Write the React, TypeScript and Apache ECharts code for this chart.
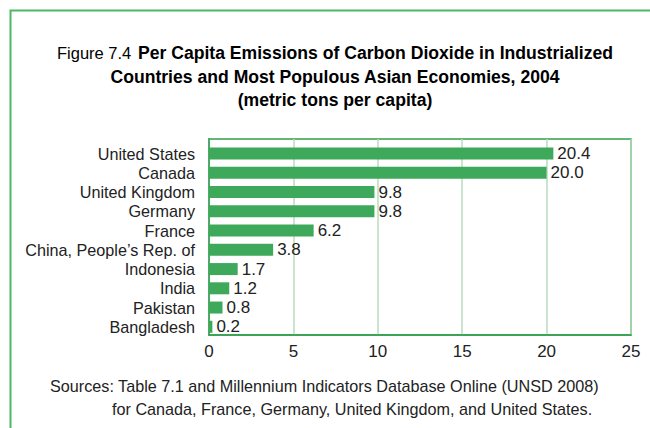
import React, { useEffect, useRef } from "react";
import * as echarts from "echarts";

const categories = [
  "United States",
  "Canada",
  "United Kingdom",
  "Germany",
  "France",
  "China, People’s Rep. of",
  "Indonesia",
  "India",
  "Pakistan",
  "Bangladesh",
];
const emissions = [20.4, 20.0, 9.8, 9.8, 6.2, 3.8, 1.7, 1.2, 0.8, 0.2];
const xTicks = { min: 0, max: 25, interval: 5 };

const FONT = "'Liberation Sans', Arial, sans-serif";
const GREEN = "#3ea95a";
const FRAME = "#4cb862";
const TEXT = "#222222";

export default function App() {
  const ref = useRef<HTMLDivElement>(null);
  useEffect(() => {
    document.body.style.margin = "0";
    const chart = echarts.init(ref.current!, null, { renderer: "svg" });
    chart.setOption({
      animation: false,
      backgroundColor: "#ffffff",
      textStyle: { fontFamily: FONT },
      graphic: [
        {
          type: "polyline",
          shape: { points: [[10.5, 428], [10.5, 10.5], [650, 10.5]] },
          style: { stroke: FRAME, lineWidth: 2, fill: null },
          silent: true,
        },
        {
          type: "text",
          x: 335,
          y: 41.5,
          silent: true,
          style: {
            text:
              "{a|Figure 7.4}  {b|Per Capita Emissions of Carbon Dioxide in Industrialized}\n{b|Countries and Most Populous Asian Economies, 2004}\n{b|(metric tons per capita)}",
            align: "center",
            verticalAlign: "top",
            rich: {
              a: { fontFamily: FONT, fontSize: 16.5, color: TEXT, lineHeight: 23.5 },
              b: { fontFamily: FONT, fontSize: 17.6, fontWeight: "bold", color: TEXT, lineHeight: 23.5 },
            },
          },
        },
        {
          type: "text",
          x: 50,
          y: 377.5,
          silent: true,
          style: {
            text: "Sources: Table 7.1 and Millennium Indicators Database Online (UNSD 2008)",
            fontFamily: FONT,
            fontSize: 16.2,
            fill: TEXT,
            align: "left",
            verticalAlign: "top",
          },
        },
        {
          type: "text",
          x: 112,
          y: 400.5,
          silent: true,
          style: {
            text: "for Canada, France, Germany, United Kingdom, and United States.",
            fontFamily: FONT,
            fontSize: 16.2,
            fill: TEXT,
            align: "left",
            verticalAlign: "top",
          },
        },
      ],
      grid: [
        { left: 209, top: 139, width: 422, height: 196, show: true, borderColor: "#2f9e4c", borderWidth: 1.5, containLabel: false },
        { left: 209, top: 144, width: 422, height: 192.4, containLabel: false },
      ],
      xAxis: [
        {
          gridIndex: 0,
          type: "value",
          min: xTicks.min,
          max: xTicks.max,
          interval: xTicks.interval,
          axisLine: { show: true, lineStyle: { color: "#2f9e4c", width: 1.5 } },
          axisTick: { show: false },
          splitLine: { show: true, lineStyle: { color: "#b7dcbc", width: 1.5 } },
          axisLabel: { fontFamily: FONT, fontSize: 17, color: TEXT, margin: 8 },
        },
        {
          gridIndex: 1,
          type: "value",
          min: xTicks.min,
          max: xTicks.max,
          show: false,
        },
      ],
      yAxis: [
        {
          gridIndex: 0,
          type: "value",
          min: 0,
          max: 1,
          axisLine: { show: true, lineStyle: { color: "#2f9e4c", width: 1.5 } },
          axisTick: { show: false },
          axisLabel: { show: false },
          splitLine: { show: false },
        },
        {
          gridIndex: 1,
          type: "category",
          inverse: true,
          data: categories,
          axisLine: { show: false },
          axisTick: { show: false },
          splitLine: { show: false },
          axisLabel: { fontFamily: FONT, fontSize: 16.2, color: TEXT, margin: 14, interval: 0 },
        },
      ],
      series: [
        {
          type: "bar",
          xAxisIndex: 1,
          yAxisIndex: 1,
          data: emissions,
          barWidth: 12,
          itemStyle: { color: GREEN },
          label: {
            show: true,
            position: "right",
            distance: 4,
            formatter: (p: any) => Number(p.value).toFixed(1),
            fontFamily: FONT,
            fontSize: 17,
            color: TEXT,
          },
        },
      ],
    });
    return () => chart.dispose();
  }, []);
  return <div ref={ref} style={{ width: 650, height: 428 }} />;
}
